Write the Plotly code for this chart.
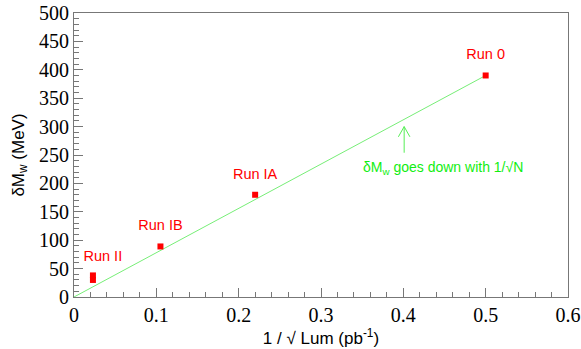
import plotly.graph_objects as go

# data
runs = ["Run II", "Run II", "Run IB", "Run IA", "Run 0"]
inv_sqrt_lum = [0.023, 0.023, 0.105, 0.22, 0.50]
delta_mw = [38, 30, 89, 180, 390]
label_runs = ["Run II", "Run IB", "Run IA", "Run 0"]
label_x = [0.035, 0.105, 0.22, 0.50]
label_y = [70, 125, 215, 425]
fit_x = [0.0, 0.5]
fit_y = [0, 390]
x_ticks = [0, 0.1, 0.2, 0.3, 0.4, 0.5, 0.6]
y_ticks = [0, 50, 100, 150, 200, 250, 300, 350, 400, 450, 500]
arrow_x = 0.401
arrow_tip, arrow_tail = 300, 254

fig = go.Figure()
fig.add_trace(go.Scatter(x=fit_x, y=fit_y, mode="lines",
                         line=dict(color="#77ee77", width=1), showlegend=False))
fig.add_trace(go.Scatter(x=inv_sqrt_lum, y=delta_mw, mode="markers",
                         marker=dict(symbol="square", size=6, color="#ff0000"),
                         showlegend=False))
fig.add_trace(go.Scatter(x=label_x, y=label_y, mode="text", text=label_runs,
                         textfont=dict(family="Liberation Sans", size=14.5, color="#ff0000"),
                         showlegend=False))

# open arrow
fig.add_shape(type="line", x0=arrow_x, x1=arrow_x, y0=arrow_tail, y1=arrow_tip,
              xref="x", yref="y", line=dict(color="#55ee55", width=1))
fig.add_shape(type="path", xref="x", yref="y",
              path=f"M {arrow_x-0.007},{arrow_tip-18} L {arrow_x},{arrow_tip} L {arrow_x+0.007},{arrow_tip-18}",
              line=dict(color="#55ee55", width=1))
fig.add_annotation(x=0.448, y=227, xref="x", yref="y", showarrow=False,
                   text="δM<sub>w</sub> goes down with 1/√N",
                   font=dict(family="Liberation Sans", size=14, color="#11ee11"))

axis_common = dict(ticks="inside", showgrid=False, zeroline=False, automargin=False,
                   showline=True, linecolor="#777", linewidth=1, mirror=True,
                   tickcolor="#777", ticklen=9, ticklabeloverflow="allow",
                   tickfont=dict(family="Liberation Serif", size=20, color="black"))
fig.update_xaxes(range=[0, 0.6], tickvals=x_ticks, ticktext=["0", "0.1", "0.2", "0.3", "0.4", "0.5", "0.6"],
                 minor=dict(dtick=0.02, ticks="inside", ticklen=5, tickcolor="#777"),
                 title=dict(text="1 / √ Lum (pb<sup>-1</sup>)", standoff=6,
                            font=dict(family="Liberation Sans", size=17, color="black")),
                 **axis_common)
fig.update_yaxes(range=[0, 500], tickvals=y_ticks,
                 minor=dict(dtick=10, ticks="inside", ticklen=5, tickcolor="#777"),
                 title=dict(text="δM<sub>w</sub> (MeV)", standoff=10,
                            font=dict(family="Liberation Sans", size=17, color="black")),
                 **axis_common)
fig.update_layout(width=581, height=349, margin=dict(l=74, r=13, t=13, b=52),
                  plot_bgcolor="white", paper_bgcolor="white")
fig.write_html("out.html", config={"displayModeBar": False},
               post_script="document.body.style.margin='0';document.documentElement.style.overflow='hidden';")
